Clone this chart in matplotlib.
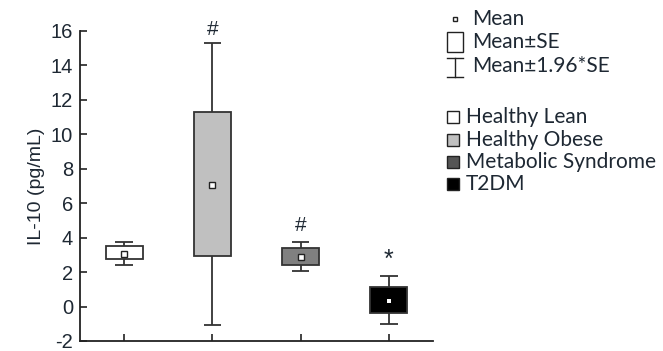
import matplotlib
matplotlib.use("Agg")
import matplotlib.pyplot as plt
from matplotlib.patches import Rectangle
from matplotlib.lines import Line2D

groups = ["Healthy Lean", "Healthy Obese", "Metabolic Syndrome", "T2DM"]
means = [3.03, 7.03, 2.86, 0.31]
se_low = [2.78, 2.92, 2.40, -0.35]
se_high = [3.50, 11.29, 3.40, 1.12]
ci_low = [2.43, -1.08, 2.05, -0.99]
ci_high = [3.75, 15.28, 3.75, 1.78]
fills = ["white", "#c0c0c0", "#808080", "black"]
legend_fills = ["white", "#c0c0c0", "#555555", "black"]
marks = ["", "#", "#", "*"]
mark_y = [None, 16.1, 4.7, 2.7]
yticks = [-2, 0, 2, 4, 6, 8, 10, 12, 14, 16]

W, H = 663, 351
TXT = "#1e2833"
LINE = "#333333"


def px(x, y):
    return x / W, 1 - y / H


def main():
    fig = plt.figure(figsize=(W / 100, H / 100), dpi=100)
    ax = fig.add_axes([80 / W, 1 - 341 / H, (433 - 80) / W, (341 - 31) / H])

    pos = list(range(1, len(groups) + 1))
    for i, p in enumerate(pos):
        ax.vlines(p, ci_low[i], ci_high[i], color=LINE, lw=1.3, zorder=1)
        ax.hlines([ci_low[i], ci_high[i]], p - 0.1, p + 0.1, color=LINE, lw=1.3, zorder=1)
        ax.bar(p, se_high[i] - se_low[i], bottom=se_low[i], width=0.42,
               color=fills[i], edgecolor=LINE, lw=1.3, zorder=2)
        if i < 3:
            ax.plot(p, means[i], "s", ms=4.2, mfc="white", mec="#222222",
                    mew=1.0, zorder=3)
        else:
            ax.plot(p, means[i], "s", ms=3.0, mfc="white", mew=0, zorder=3)
        if marks[i]:
            ax.text(p, mark_y[i], marks[i], ha="center", va="center",
                    fontsize=15 if marks[i] == "#" else 18, color=TXT,
                    family="Liberation Sans")

    ax.set_xlim(0.5, 4.5)
    ax.set_ylim(-2, 16)
    ax.set_xticks(pos)
    ax.set_xticklabels([])
    ax.set_yticks(yticks)
    ax.set_yticklabels([str(t) for t in yticks], fontsize=14.5, color=TXT,
                       family="Liberation Sans")
    ax.tick_params(direction="in", length=5, width=1.2, color="#222222", pad=5)
    for s in ["top", "right"]:
        ax.spines[s].set_visible(False)
    for s in ["left", "bottom"]:
        ax.spines[s].set_linewidth(1.3)
        ax.spines[s].set_color("#222222")
    ax.set_ylabel("IL-10 (pg/mL)", fontsize=14, color=TXT, family="Liberation Sans",
                  labelpad=4)

    # legend drawn by hand
    lfont = dict(fontsize=15, color=TXT, family="Lato", va="center", ha="left")
    tr = fig.transFigure
    x0, y0 = px(453, 21)
    fig.add_artist(Rectangle((x0, y0), 4 / W, 4 / H, transform=tr, fc="white",
                             ec="#222222", lw=1.0))
    fig.text(*px(472, 19), "Mean", **lfont)
    x0, y0 = px(447, 52)
    fig.add_artist(Rectangle((x0, y0), 16 / W, 20 / H, transform=tr, fc="white",
                             ec="#222222", lw=1.0))
    fig.text(*px(472, 42), "Mean±SE", **lfont)
    fig.add_artist(Line2D([px(455, 0)[0]] * 2, [px(0, 58)[1], px(0, 77)[1]], transform=tr,
                          color="#222222", lw=1.0))
    for yy in (58, 77):
        fig.add_artist(Line2D([px(447, 0)[0], px(463, 0)[0]], [px(0, yy)[1]] * 2,
                              transform=tr, color="#222222", lw=1.0))
    fig.text(*px(472, 66), "Mean±1.96*SE", **lfont)

    ycs = [117, 140, 162, 184]
    for g, fc, yc in zip(groups, legend_fills, ycs):
        x0, y0 = px(447, yc + 6)
        fig.add_artist(Rectangle((x0, y0), 12 / W, 12 / H, transform=tr, fc=fc,
                                 ec="#222222", lw=1.0))
        fig.text(*px(466, yc), g, **lfont)

    fig.savefig("out.png", dpi=100)


if __name__ == "__main__":
    main()
